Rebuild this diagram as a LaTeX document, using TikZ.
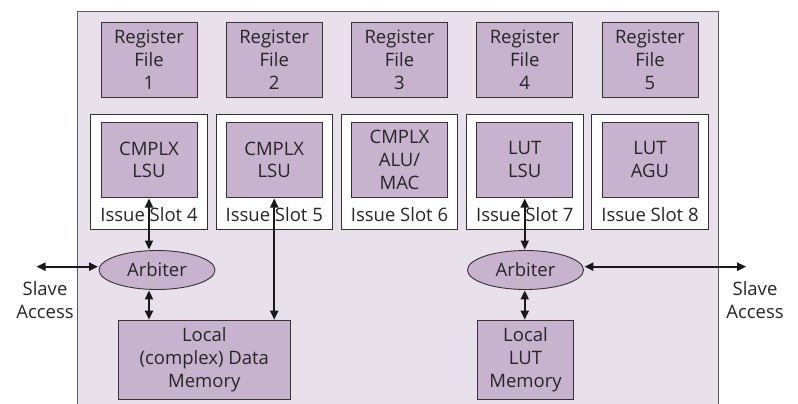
\documentclass[tikz,border=0pt]{standalone}
\usepackage{fontspec}
\setmainfont{Open Sans}
\usetikzlibrary{shapes.geometric,arrows.meta}
\definecolor{panel}{HTML}{E8E1EC}
\definecolor{unitfill}{HTML}{C7B3CE}
\definecolor{edge}{HTML}{333333}
\tikzset{
  txt/.style={font=\fontsize{18.5}{22.8}\selectfont, text=black!85, align=center},
  unitbox/.style={txt, draw=edge, line width=0.9pt, fill=unitfill, minimum width=96pt, minimum height=75.5pt, inner sep=0pt},
  slotbox/.style={draw=edge, line width=0.9pt, fill=white, minimum width=116.5pt, minimum height=114.5pt, inner sep=0pt},
  arb/.style={txt, ellipse, draw=edge, line width=0.9pt, fill=unitfill, minimum width=116pt, minimum height=39pt, inner sep=0pt},
  link/.style={line width=2pt, draw=black!90, {Triangle[length=9pt,width=8pt]}-{Triangle[length=9pt,width=8pt]}, shorten <=0.5pt, shorten >=0.5pt}
}
\begin{document}
\begin{tikzpicture}[x=1pt,y=-1pt]
\useasboundingbox (0,0) rectangle (798,404);
\clip (0,0) rectangle (798,404);
% chip outline
\draw[draw=black!65, line width=0.9pt, fill=panel] (77,11.5) rectangle (718,420);

% register files
\foreach \i/\x in {1/149,2/274.25,3/399.5,4/524.75,5/650}{
  \node[unitbox] (rf\i) at (\x,59.8) {Register\\File\\\i};
}

% issue slots with their functional units
\foreach \i/\x/\u in {4/149/{CMPLX\\LSU},5/274.25/{CMPLX\\LSU},6/399.5/{CMPLX\\ALU/\\MAC},7/524.75/{LUT\\LSU},8/650/{LUT\\AGU}}{
  \node[slotbox] (slot\i) at (\x,171.7) {};
  \node[unitbox] (unit\i) at (\x,159.8) {\u};
  \node[txt, inner sep=0pt] (slotlbl\i) at (\x,214.5) {Issue Slot \i};
}

% arbiters and local memories
\node[arb] (arb1) at (157,270) {Arbiter};
\node[arb] (arb2) at (525.5,270) {Arbiter};
\node[unitbox, minimum width=172.7pt, minimum height=78.3pt] (mem1) at (204.3,359.8) {Local\\(complex) Data\\Memory};
\node[unitbox, minimum width=95.6pt, minimum height=78.3pt] (mem2) at (525.5,359.8) {Local\\LUT\\Memory};

% slave access ports
\node[txt, inner sep=0pt] (slvL) at (45,300) {Slave\\Access};
\node[txt, inner sep=0pt] (slvR) at (755,300) {Slave\\Access};
\coordinate (slvLend) at (36,266.7);
\coordinate (slvRend) at (746.7,266.7);

% connections
\draw[link] (unit4.south) -- (unit4.south |- arb1.north);
\draw[link] (unit4.south |- arb1.south) -- (unit4.south |- mem1.north);
\draw[link] (unit5.south) -- (unit5.south |- mem1.north);
\draw[link] (slvLend) -- (arb1.west |- slvLend);
\draw[link] (unit7.south) -- (unit7.south |- arb2.north);
\draw[link] (unit7.south |- arb2.south) -- (unit7.south |- mem2.north);
\draw[link] (arb2.east |- slvRend) -- (slvRend);
\end{tikzpicture}
\end{document}
